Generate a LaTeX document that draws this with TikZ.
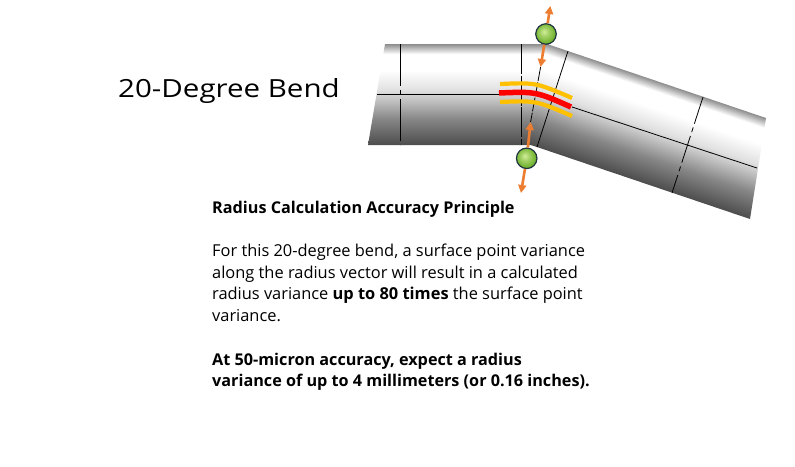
\documentclass[tikz,border=0pt]{standalone}
\usepackage{fontspec}
\setmainfont{Open Sans}
\newfontfamily\titlefont[FakeStretch=1.18]{Open Sans}
\usetikzlibrary{arrows.meta}

\definecolor{bendyellow}{HTML}{FFC000}
\definecolor{bendred}{HTML}{FF0000}
\definecolor{bendorange}{HTML}{ED7D31}
\definecolor{balllight}{HTML}{D2EE9A}
\definecolor{balldark}{HTML}{6EB02C}
\definecolor{ballrim}{HTML}{1F3440}

\pgfdeclareverticalshading{tube}{100bp}{color(0bp)=(black!70); color(25bp)=(black!70);
  color(38bp)=(black!47); color(52bp)=(black!12); color(62bp)=(white);
  color(70bp)=(white); color(75bp)=(black!45); color(100bp)=(black!45)}
\pgfdeclareradialshading{greenball}{\pgfpoint{-5bp}{6bp}}{color(0bp)=(balllight);
  color(10bp)=(balllight!55!balldark); color(25bp)=(balldark); color(50bp)=(balldark)}

\begin{document}
\begin{tikzpicture}[x=1pt, y=-1pt,
    tubeline/.style={black, line width=.8pt},
    radarrow/.style={bendorange, line width=2.6pt, -{Triangle[length=8pt, width=8pt]}},
    ballpt/.style={circle, minimum size=20.5pt, inner sep=0pt, draw=ballrim,
      line width=1.2pt, shading=greenball},
    para/.style={anchor=base west, align=left, inner sep=0pt,
      font=\fontsize{16.4}{21.5}\selectfont},
    boldpara/.style={para, font=\bfseries\fontsize{16.2}{21.5}\selectfont}]
    \useasboundingbox[fill=white] (0,0) rectangle (795,466);

    % bent tube
    \shade[shading=tube] (385,44) -- (549,44) -- (533,145) -- (368,145) -- cycle;
    \begin{scope}
        \clip (547,44) -- (766,118) -- (750,219) -- (531,145) -- cycle;
        \begin{scope}[transform canvas={rotate around={-18.7:(531,145)}}]
            \shade[shading=tube] (500,44) rectangle (790,145);
        \end{scope}
    \end{scope}

    % section lines
    \draw[tubeline, dash pattern=on 42pt off 4pt on 5pt off 4pt] (400,44) -- (400,145);
    \draw[tubeline, dash pattern=on 30pt off 1.5pt] (521,44) -- (521,145);
    \draw[tubeline] (377,94) -- (500,94);
    \draw[tubeline] (568,51) -- (537,147);
    \draw[tubeline] (572,107) -- (757,168);
    \draw[tubeline, dash pattern=on 28pt off 4pt on 5pt off 4pt] (703,97) -- (672,193);

    % surface points
    \coordinate (tipaup) at (550.3,6);
    \coordinate (tipadown) at (540.6,67);
    \coordinate (tipbup) at (530.6,122);
    \coordinate (tipbdown) at (521,193);
    \draw[tubeline, dash pattern=on 14pt off 1.5pt] (tipadown) -- (tipbup);

    % radius arcs
    \draw[bendyellow, line width=4.2pt] (500,84) .. controls (536,82.5) .. (572,98);
    \draw[bendred, line width=5.5pt] (499,93) .. controls (536,91.5) .. (571,107);
    \draw[bendyellow, line width=4.2pt] (500,102) .. controls (536,100.5) .. (572,116);

    \node[ballpt] (pta) at (546,34) {};
    \node[ballpt] (ptb) at (526.7,158.3) {};
    \draw[radarrow] (pta) -- (tipaup);
    \draw[radarrow] (pta) -- (tipadown);
    \draw[radarrow] (ptb) -- (tipbup);
    \draw[radarrow] (ptb) -- (tipbdown);

    % texts (base = last line)
    \node[anchor=base west, inner sep=0pt, font=\titlefont\fontsize{25}{30}\selectfont] (title) at (118,97) {20-Degree Bend};
    \node[boldpara] (heading) at (212,213) {Radius Calculation Accuracy Principle};
    \node[para] (body) at (212,321) {For this 20-degree bend, a surface point variance\\
        along the radius vector will result in a calculated\\
        radius variance \textbf{up to 80 times} the surface point\\
        variance.};
    \node[boldpara] (result) at (212,386.5) {At 50-micron accuracy, expect a radius\\
        variance of up to 4 millimeters (or 0.16 inches).};
\end{tikzpicture}
\end{document}
